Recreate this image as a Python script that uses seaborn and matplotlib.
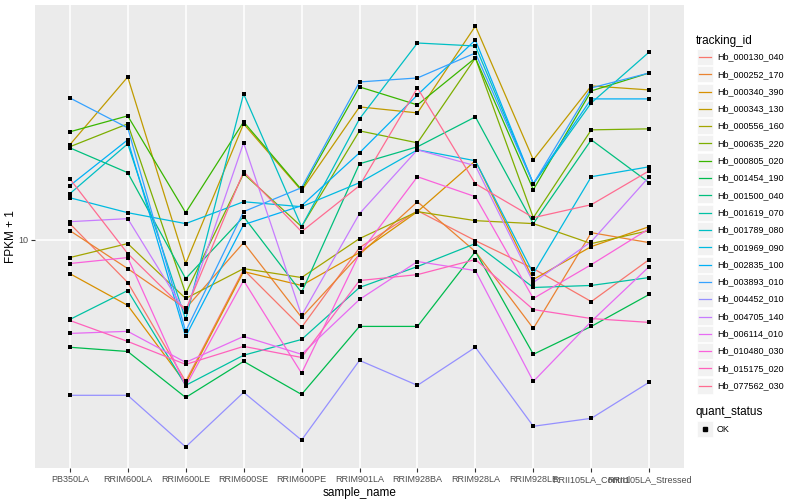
import pandas as pd
import seaborn as sns
import matplotlib.pyplot as plt
from matplotlib.lines import Line2D
from matplotlib.patches import Rectangle
from matplotlib.ticker import NullLocator

# sample order on the x axis
samples = ['PB350LA', 'RRIM600LA', 'RRIM600LE', 'RRIM600SE', 'RRIM600PE', 'RRIM901LA',
           'RRIM928BA', 'RRIM928LA', 'RRIM928LE', 'RRII105LA_Control', 'RRII105LA_Stressed']

# FPKM + 1 per gene
hb_000130_040 = [11.31, 7.19, 3.36, 7.94, 5.09, 9.40, 12.49, 9.92, 8.00, 6.21, 8.58]
hb_000252_170 = [10.72, 8.00, 5.89, 9.77, 5.50, 8.91, 13.38, 9.12, 5.05, 10.55, 9.77]
hb_000340_390 = [7.70, 6.03, 3.31, 7.82, 7.03, 9.05, 12.40, 18.34, 7.36, 9.48, 11.05]
hb_000343_130 = [20.73, 34.94, 8.32, 24.36, 14.57, 27.75, 26.50, 51.68, 18.48, 32.61, 31.62]
hb_000556_160 = [8.71, 9.70, 6.36, 8.00, 7.47, 10.08, 12.40, 11.57, 11.31, 9.70, 10.72]
hb_000635_220 = [20.42, 24.36, 6.61, 16.60, 11.05, 23.08, 21.05, 40.43, 11.84, 23.26, 23.44]
hb_000805_020 = [22.91, 25.90, 12.30, 24.74, 14.68, 32.36, 28.18, 40.43, 14.68, 31.38, 36.03]
hb_001454_190 = [4.37, 4.23, 2.97, 3.92, 3.04, 5.13, 5.13, 9.12, 4.14, 5.13, 6.56]
hb_001500_040 = [20.26, 16.73, 7.41, 11.93, 6.66, 17.92, 20.42, 25.70, 11.31, 21.54, 15.49]
hb_001619_070 = [5.41, 6.76, 3.26, 4.11, 4.64, 6.92, 8.13, 9.70, 6.92, 7.03, 7.47]
hb_001789_080 = [14.23, 20.89, 5.41, 30.67, 11.05, 25.31, 45.36, 44.33, 15.37, 28.62, 42.33]
hb_001969_090 = [13.80, 12.30, 11.31, 13.38, 12.88, 15.49, 19.95, 18.34, 7.70, 16.22, 17.51]
hb_002835_100 = [15.14, 21.54, 4.75, 11.22, 12.98, 19.50, 30.43, 46.42, 15.37, 29.51, 29.51]
hb_003893_010 = [29.74, 23.62, 4.94, 12.40, 14.91, 33.62, 34.67, 42.01, 15.37, 32.11, 36.03]
hb_004452_010 = [3.02, 3.02, 2.03, 3.09, 2.14, 3.95, 3.26, 4.37, 2.38, 2.53, 3.34]
hb_004705_140 = [11.48, 11.75, 5.71, 21.05, 5.58, 12.21, 19.95, 17.65, 7.19, 9.85, 16.22]
hb_006114_010 = [4.86, 4.94, 3.89, 4.75, 4.14, 6.31, 8.45, 7.88, 3.36, 5.33, 8.13]
hb_010480_030 = [8.32, 8.71, 3.24, 7.30, 3.58, 8.98, 16.22, 13.91, 6.36, 8.25, 10.88]
hb_015175_020 = [5.37, 4.57, 3.83, 4.40, 4.04, 7.30, 7.64, 8.58, 5.84, 5.45, 5.29]
hb_077562_030 = [15.97, 8.98, 5.80, 16.86, 10.63, 15.14, 32.11, 15.37, 11.84, 13.08, 16.98]

tracking_ids = ['Hb_000130_040', 'Hb_000252_170', 'Hb_000340_390', 'Hb_000343_130',
                'Hb_000556_160', 'Hb_000635_220', 'Hb_000805_020', 'Hb_001454_190',
                'Hb_001500_040', 'Hb_001619_070', 'Hb_001789_080', 'Hb_001969_090',
                'Hb_002835_100', 'Hb_003893_010', 'Hb_004452_010', 'Hb_004705_140',
                'Hb_006114_010', 'Hb_010480_030', 'Hb_015175_020', 'Hb_077562_030']
series = [hb_000130_040, hb_000252_170, hb_000340_390, hb_000343_130, hb_000556_160,
          hb_000635_220, hb_000805_020, hb_001454_190, hb_001500_040, hb_001619_070,
          hb_001789_080, hb_001969_090, hb_002835_100, hb_003893_010, hb_004452_010,
          hb_004705_140, hb_006114_010, hb_010480_030, hb_015175_020, hb_077562_030]
quant_status = ['OK']

# ggplot default hue palette for 20 levels
palette = ['#F8766D', '#EA8331', '#D89000', '#C09B00', '#A3A500', '#7CAE00', '#39B600',
           '#00BB4E', '#00BF7D', '#00C1A3', '#00BFC4', '#00BAE0', '#00B0F6', '#35A2FF',
           '#9590FF', '#C77CFF', '#E76BF3', '#FA62DB', '#FF62BC', '#FF6C91']

rows = []
for tid, vals in zip(tracking_ids, series):
    for s, v in zip(samples, vals):
        rows.append({'tracking_id': tid, 'sample_name': s, 'fpkm': v, 'quant_status': quant_status[0]})
data = pd.DataFrame(rows)

plt.rcParams['font.family'] = ['Liberation Sans', 'DejaVu Sans']

fig = plt.figure(figsize=(8, 5), dpi=100)
W, H = 800, 500
ax = fig.add_axes([35 / W, 1 - 468 / H, (684 - 35) / W, (468 - 5) / H])
ax.set_facecolor('#EBEBEB')

sns.lineplot(data=data, x='sample_name', y='fpkm', hue='tracking_id', hue_order=tracking_ids,
             palette=palette, sort=False, estimator=None, lw=0.9, legend=False, ax=ax)
sns.scatterplot(data=data, x='sample_name', y='fpkm', color='black', marker='s', s=12,
                linewidth=0, legend=False, ax=ax, zorder=3)

ax.set_yscale('log')
ax.margins(y=0.05)
ax.set_xlim(-0.6, len(samples) - 0.4)
ax.set_yticks([10])
ax.set_yticklabels(['10'])
ax.yaxis.set_minor_locator(NullLocator())

ax.grid(True, color='white', lw=1.1)
ax.set_axisbelow(True)
for sp in ax.spines.values():
    sp.set_visible(False)
ax.tick_params(length=3, width=0.8, color='#333333', labelcolor='#4D4D4D', labelsize=6.5, pad=2)
ax.set_xlabel('sample_name', fontsize=8.5, labelpad=2)
ax.set_ylabel('FPKM + 1', fontsize=8.5, labelpad=1)

# legends drawn by hand in ggplot style
def fx(px):
    return px / W

def fy(py):
    return 1 - py / H

fig.text(fx(696), fy(41), 'tracking_id', fontsize=8.5, va='center', ha='left')
for i, (tid, col) in enumerate(zip(tracking_ids, palette)):
    yc = 57 + 17.3 * i
    fig.add_artist(Rectangle((fx(697), fy(yc + 8)), 16 / W, 16 / H, transform=fig.transFigure,
                             facecolor='#F2F2F2', edgecolor='white', lw=0.5))
    fig.add_artist(Line2D([fx(699), fx(711)], [fy(yc), fy(yc)], transform=fig.transFigure,
                          color=col, lw=0.9))
    fig.text(fx(717), fy(yc), tid, fontsize=6.5, va='center', ha='left')

fig.text(fx(696), fy(412), 'quant_status', fontsize=8.5, va='center', ha='left')
fig.add_artist(Rectangle((fx(697), fy(429 + 8)), 16 / W, 16 / H, transform=fig.transFigure,
                         facecolor='#F2F2F2', edgecolor='white', lw=0.5))
fig.add_artist(Line2D([fx(705)], [fy(429)], transform=fig.transFigure, marker='s',
                      markersize=2.8, color='black', lw=0))
fig.text(fx(717), fy(429), quant_status[0], fontsize=6.5, va='center', ha='left')

fig.savefig('out.png', dpi=100)
